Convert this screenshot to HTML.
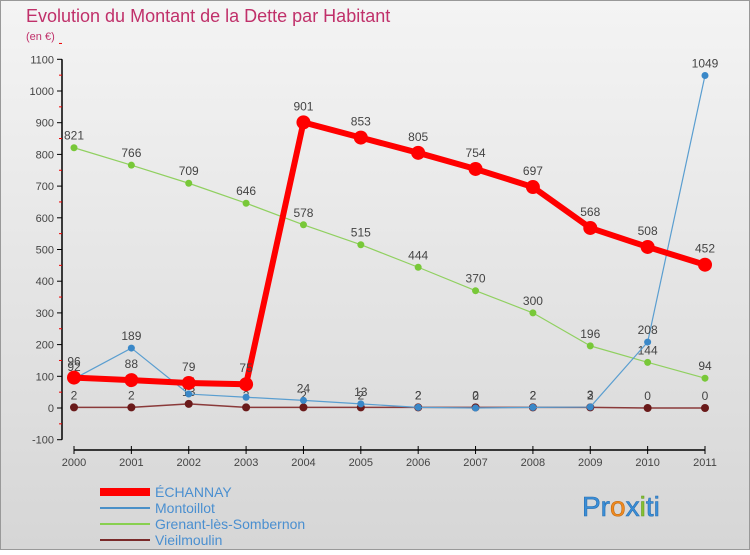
<!DOCTYPE html>
<html><head><meta charset="utf-8"><style>
body{margin:0;width:750px;height:550px;overflow:hidden;font-family:"Liberation Sans",sans-serif}
svg text{font-family:"Liberation Sans",sans-serif}
</style></head><body>
<svg id="c" width="750" height="550" xmlns="http://www.w3.org/2000/svg">
<defs><linearGradient id="bg" x1="0" y1="0" x2="0" y2="1"><stop offset="0" stop-color="#f4f4f4"/><stop offset="1" stop-color="#d6d6d6"/></linearGradient></defs>
<rect x="0.5" y="0.5" width="749" height="549" fill="url(#bg)" stroke="#999"/>
<text x="26" y="22" font-size="18" fill="#c0306a">Evolution du Montant de la Dette par Habitant</text>
<text x="26" y="40" font-size="11" fill="#c0306a">(en €)</text>
<g id="axes"></g><g id="series"></g>
<g>
<rect x="100" y="488" width="50" height="8" fill="#ff0000"/>
<text x="155" y="497" font-size="14" fill="#4a8fd0">ÉCHANNAY</text>
<line x1="100" y1="508" x2="150" y2="508" stroke="#4a90c8" stroke-width="2"/>
<text x="155" y="513" font-size="14" fill="#4a8fd0">Montoillot</text>
<line x1="100" y1="524" x2="150" y2="524" stroke="#88d050" stroke-width="2"/>
<text x="155" y="529" font-size="14" fill="#4a8fd0">Grenant-lès-Sombernon</text>
<line x1="100" y1="540" x2="150" y2="540" stroke="#7a2a2a" stroke-width="2"/>
<text x="155" y="545" font-size="14" fill="#4a8fd0">Vieilmoulin</text>
</g>
<text x="582" y="516" font-size="28" fill="#3a8fd8" stroke="#2a6fb0" stroke-width="0.6">Pr<tspan fill="#f08a20" stroke="#c06a10">o</tspan>x<tspan fill="#88c030" stroke="#60a020">i</tspan>ti</text>
</svg>
<script>
const years=[2000,2001,2002,2003,2004,2005,2006,2007,2008,2009,2010,2011];
const yTicks=[-100,0,100,200,300,400,500,600,700,800,900,1000,1100];
const echannay=[96,88,79,75,901,853,805,754,697,568,508,452];
const montoillot=[92,189,44,34,24,13,2,0,2,3,208,1049];
const grenant=[821,766,709,646,578,515,444,370,300,196,144,94];
const vieilmoulin=[2,2,13,2,2,2,2,2,2,2,0,0];
const NS="http://www.w3.org/2000/svg";
const X0=74,X1=705,Y0=408,Y1000=91;
const xs=i=>X0+i*(X1-X0)/(years.length-1);
const ys=v=>Y0+(Y1000-Y0)*v/1000;
function mk(t,a,p){const e=document.createElementNS(NS,t);for(const k in a)e.setAttribute(k,a[k]);p.appendChild(e);return e;}
const ax=document.getElementById('axes');
const yl=mk('line',{x1:62,y1:ys(1100),x2:62,y2:ys(-100),stroke:'#000','stroke-width':1.5},ax);


yTicks.forEach(v=>{
 mk('line',{x1:57,y1:ys(v),x2:62,y2:ys(v),stroke:'#000'},ax);
 mk('line',{x1:59,y1:ys(v+50),x2:62,y2:ys(v+50),stroke:'#e00'},ax);
 const t=mk('text',{x:54,y:ys(v)+4,'font-size':11,'text-anchor':'end',fill:'#444'},ax);t.textContent=v;
 
 
});
const xl=mk('line',{x1:X0,y1:450,x2:X1,y2:450,stroke:'#000','stroke-width':1.5},ax);


years.forEach((y,i)=>{
 mk('line',{x1:xs(i),y1:446,x2:xs(i),y2:454,stroke:'#000'},ax);
 const t=mk('text',{x:xs(i),y:466,'font-size':11,'text-anchor':'middle',fill:'#444'},ax);t.textContent=y;
 
 
});
const sg=document.getElementById('series');
function draw(name,vals,col,w,r,dcol,off){
 const g=mk('g',{},sg);
 
 
 mk('polyline',{points:vals.map((v,i)=>xs(i)+','+ys(v)).join(' '),fill:'none',stroke:col,'stroke-width':w,'stroke-linejoin':'round'},g);
 vals.forEach((v,i)=>{
  const c=mk('circle',{cx:xs(i),cy:ys(v),r:r,fill:dcol},g);
  
  
  const t=mk('text',{x:xs(i),y:ys(v)-off,'font-size':12,'text-anchor':'middle',fill:'#444'},g);t.textContent=v;
  
  
 });
}
draw('vieilmoulin',vieilmoulin,'#8a3a3a',1.5,4,'#6a1a1a',8);
draw('grenant',grenant,'#90d060',1.2,3.5,'#78c838',8);
draw('montoillot',montoillot,'#5a9ed0',1.2,3.5,'#3a88c8',8);
draw('echannay',echannay,'#ff0000',6,7,'#ff0000',12);
</script>
</body></html>
